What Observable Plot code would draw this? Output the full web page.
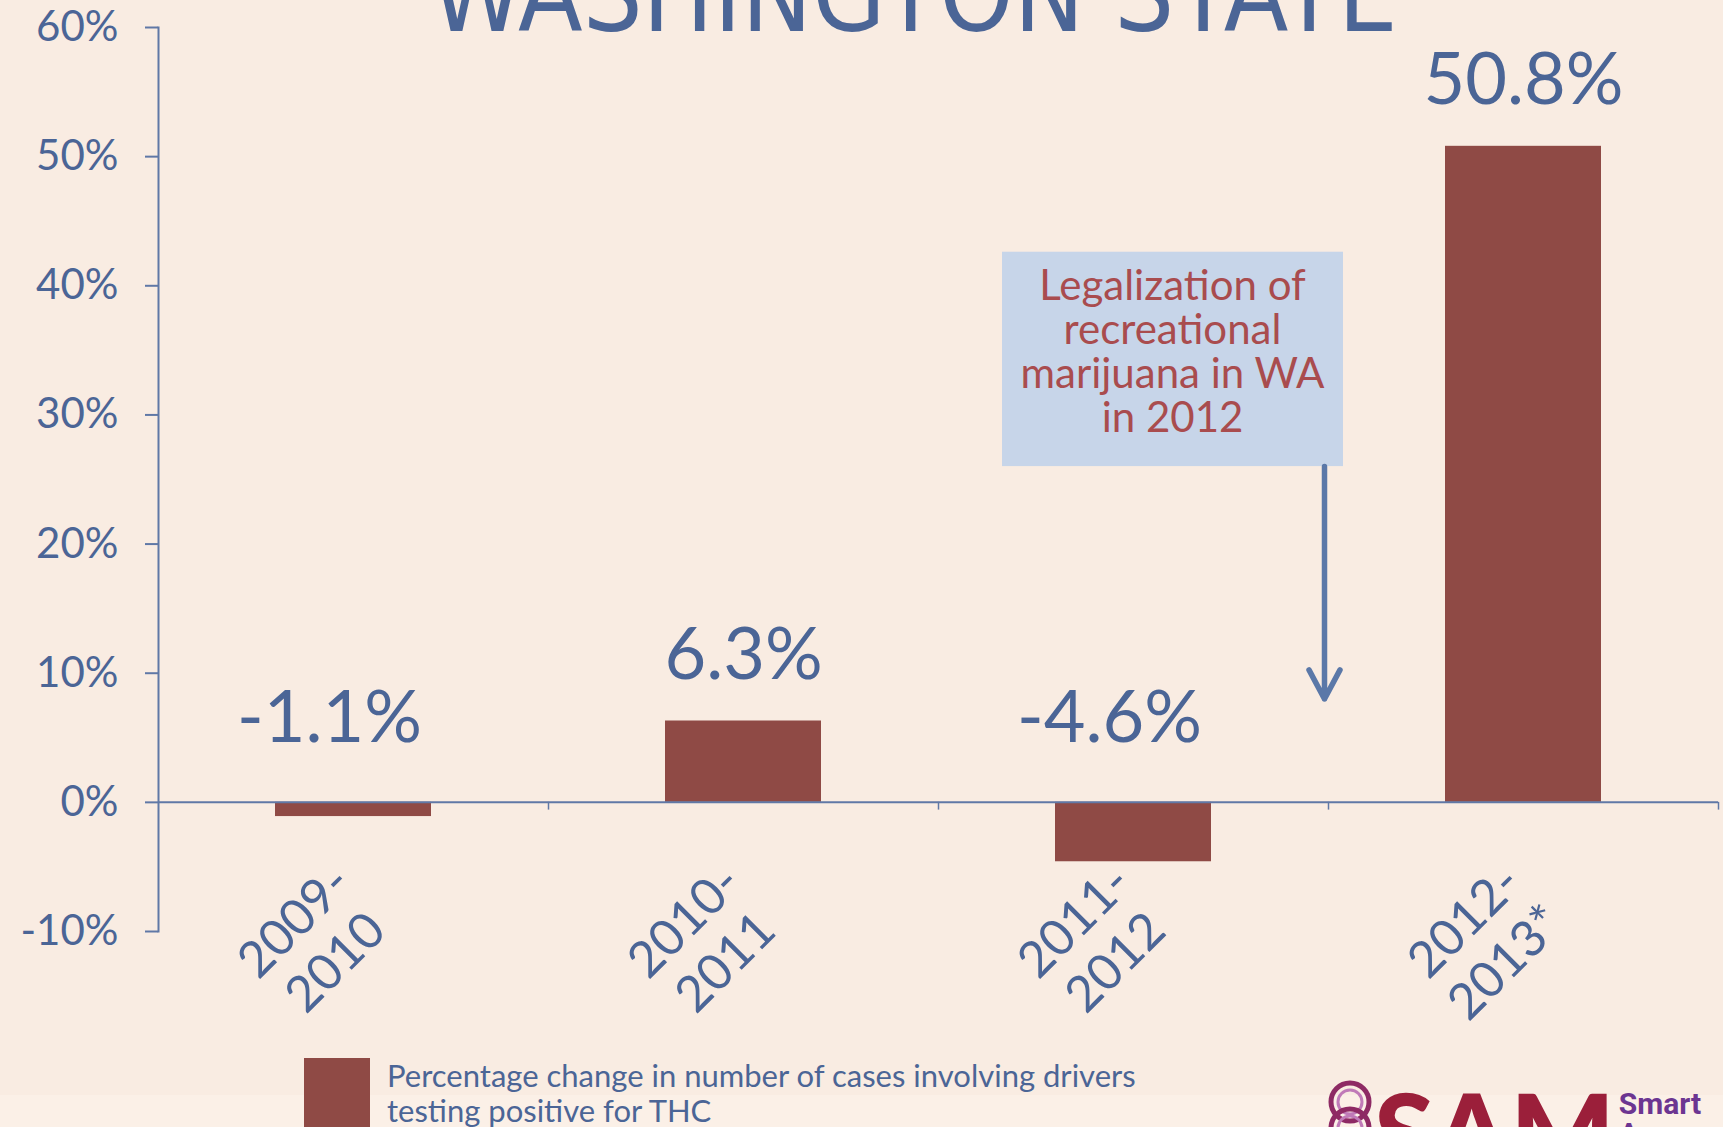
<!DOCTYPE html>
<html>
<head>
<meta charset="utf-8">
<script src="https://cdn.jsdelivr.net/npm/d3@7"></script>
<script src="https://cdn.jsdelivr.net/npm/@observablehq/plot@0.6"></script>
<style>
  html, body { margin: 0; padding: 0; }
  body { width: 1723px; height: 1127px; overflow: hidden; position: relative; background: #f9ece2; font-family: Lato, "Open Sans", sans-serif; }
  #bottomband { position: absolute; left: 0; top: 1095px; width: 1723px; height: 40px; background: #fbf0e7; }
  #chart { position: absolute; left: 0; top: 0; }
  #title { position: absolute; top: -57px; left: 914px; transform: translateX(-50%); font-family: "Liberation Sans Narrow", "DejaVu Sans Condensed", sans-serif; font-size: 105px; line-height: 1; color: #4b6596; white-space: nowrap; }
  #legend { position: absolute; left: 304px; top: 1058px; display: flex; align-items: flex-start; }
  #legend .sw { width: 66px; height: 70px; background: #8f4a45; flex: none; }
  #legend .tx { margin-left: 17px; font-size: 31px; line-height: 35px; color: #4b6596; margin-top: 0px; }
  #logo { position: absolute; left: 1328px; top: 1080px; display: flex; align-items: flex-start; }
  #logo .sam { font-family: Lato, sans-serif; font-weight: 900; font-size: 110px; line-height: 1; color: #9b1f3a; margin-top: -4px; letter-spacing: 0px; }
  #logo .smart { font-family: Roboto, sans-serif; font-weight: 700; font-size: 30px; line-height: 1; color: #6c3591; margin-left: 4px; margin-top: 9px; }
</style>
</head>
<body>
<div id="bottomband"></div>
<div id="chart"></div>
<div id="title">WASHINGTON STATE</div>
<div id="legend"><div class="sw"></div><div class="tx"></div></div>
<div id="logo">
  <svg width="46" height="60" viewBox="0 0 46 60">
    <circle cx="22" cy="22" r="19" fill="none" stroke="#8e2a64" stroke-width="5"/>
    <circle cx="22" cy="22" r="12" fill="none" stroke="#c07ab8" stroke-width="3"/>
    <circle cx="22" cy="48" r="19" fill="none" stroke="#8e2a64" stroke-width="5"/>
    <circle cx="22" cy="48" r="12" fill="none" stroke="#c07ab8" stroke-width="3"/>
  </svg>
  <div class="sam">SAM</div>
  <div class="smart">Smart<br>Approaches</div>
</div>
<script>
// ---- data ----
const categories = ["2009-2010", "2010-2011", "2011-2012", "2012-2013*"];
const tickLabels = ["2009-\n2010", "2010-\n2011", "2011-\n2012", "2012-\n2013*"];
const values = [-1.1, 6.3, -4.6, 50.8];
const yTicks = [-10, 0, 10, 20, 30, 40, 50, 60];
const seriesName = "Percentage change in number of cases involving drivers testing positive for THC";
const annotationText = "Legalization of\nrecreational\nmarijuana in WA\nin 2012";
const annotationCategory = "2011-2012";
const annotationBox = [26.0, 42.6];   // y extent of the note box (in %)
const arrowFromTo = [26.0, 8.0];      // arrow y extent (in %)

const data = categories.map((c, i) => ({cat: c, v: values[i]}));
const labelOf = new Map(categories.map((c, i) => [c, tickLabels[i]]));

const blue = "#4b6596";
const axisBlue = "#6078a6";
const barColor = "#8f4a45";

const W = 1723, H = 1045;

const valueText = d => `${d.v.toFixed(1)}%`;

const chart = Plot.plot({
  width: W,
  height: H,
  marginLeft: 158,
  marginRight: 5,
  marginTop: 27,
  marginBottom: 114,
  style: {background: "transparent", color: blue, fontFamily: "Lato, 'Open Sans', sans-serif", fontSize: "42px", overflow: "visible"},
  x: {domain: categories, paddingInner: 0.6, paddingOuter: 0.3, axis: null},
  y: {domain: [-10, 60], axis: null},
  marks: [
    // note box
    Plot.barY([annotationCategory], {x: d => d, y1: annotationBox[0], y2: annotationBox[1], fill: "#c7d5e9", insetLeft: -53, insetRight: -132}),
    Plot.text([annotationText], {x: () => annotationCategory, y: 34.9, text: d => d, dx: 39, fill: "#a94c4e", fontSize: 42, lineHeight: 1.05, lineAnchor: "middle", textAnchor: "middle"}),
    Plot.arrow([annotationCategory], {x1: d => d, x2: d => d, y1: arrowFromTo[0], y2: arrowFromTo[1], dx: 191, stroke: "#5b78a8", strokeWidth: 5.5, headLength: 9, headAngle: 56, bend: 0}),
    // bars
    Plot.barY(data, {x: "cat", y: "v", fill: barColor}),
    // axes
    Plot.frame({anchor: "left", stroke: axisBlue, strokeWidth: 2}),
    Plot.ruleY([0], {stroke: axisBlue, strokeWidth: 2}),
    Plot.ruleX(categories, {x: d => d, y1: 0, y2: -0.6, dx: 195, stroke: axisBlue, strokeWidth: 1.5}),
    Plot.axisY({ticks: yTicks, tickFormat: d => `${d}%`, tickSize: 13, tickPadding: 27, fontSize: 42, stroke: axisBlue, strokeWidth: 2, fill: blue, label: null}),
    Plot.axisX({anchor: "bottom", tickSize: 0, tickPadding: 9, tickRotate: -45, textAnchor: "middle", lineAnchor: "middle", lineHeight: 1.16, fontSize: 50, dx: -40, fill: blue, label: null, tickFormat: d => labelOf.get(d)}),
    // value labels (negative values sit above the zero line)
    Plot.text(data, {filter: d => d.v < 0, x: "cat", y: 0, text: valueText, dy: -60, dx: -24, lineAnchor: "bottom", fontSize: 72, fill: blue}),
    Plot.text(data, {filter: d => d.v >= 0, x: "cat", y: "v", text: valueText, dy: -42, lineAnchor: "bottom", fontSize: 72, fill: blue})
  ]
});
document.getElementById("chart").appendChild(chart);
document.querySelector("#legend .tx").innerHTML = "Percentage change in number of cases involving drivers<br>testing positive for THC";
</script>
</body>
</html>
